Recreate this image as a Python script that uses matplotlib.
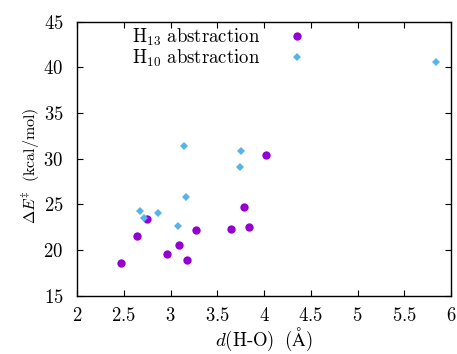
import matplotlib
matplotlib.use("Agg")
import matplotlib.pyplot as plt
from matplotlib.ticker import FuncFormatter

plt.rcParams['mathtext.fontset'] = 'cm'
plt.rcParams['font.family'] = 'serif'
plt.rcParams['font.serif'] = ['DejaVu Serif']

h13_d = [2.47, 2.64, 2.75, 2.96, 3.09, 3.17, 3.27, 3.64, 3.78, 3.835, 4.02]
h13_e = [18.55, 21.57, 23.36, 19.57, 20.55, 18.87, 22.19, 22.27, 24.68, 22.49, 30.37]
h10_d = [2.67, 2.71, 2.86, 3.08, 3.14, 3.16, 3.75, 3.74, 5.84]
h10_e = [24.31, 23.54, 24.09, 22.66, 31.39, 25.77, 30.88, 29.09, 40.59]
x_ticks = [2, 2.5, 3, 3.5, 4, 4.5, 5, 5.5, 6]
y_ticks = [15, 20, 25, 30, 35, 40, 45]

fs = 13.5
fig = plt.figure(figsize=(4.57, 3.54), dpi=100)
ax = fig.add_axes([0.169, 0.1647, 0.818, 0.774])

ax.plot(h13_d, h13_e, 'o', color='#9400d3', ms=6.0, mew=0, label=r'$\mathrm{H}_{13}\ \mathrm{abstraction}$')
ax.plot(h10_d, h10_e, 'D', color='#56b4e9', ms=4.0, mew=0, label=r'$\mathrm{H}_{10}\ \mathrm{abstraction}$')

ax.set_xlim(2, 6)
ax.set_ylim(15, 45)
ax.set_xticks(x_ticks)
ax.set_yticks(y_ticks)
fmt = FuncFormatter(lambda v, p: r'$\mathrm{%g}$' % v)
ax.xaxis.set_major_formatter(fmt)
ax.yaxis.set_major_formatter(fmt)
ax.tick_params(direction='in', top=True, right=True, length=4, width=0.8, labelsize=fs)
ax.tick_params(axis='x', pad=8)
ax.tick_params(axis='y', pad=10)
for s in ax.spines.values():
    s.set_linewidth(1.0)

ax.set_xlabel(r'$d(\mathrm{H\text{-}O})\;\ (\mathrm{\AA})$', fontsize=fs, labelpad=1)
ax.set_ylabel(r'$\Delta E^{\ddagger}\;\ (\mathrm{kcal/mol})$', fontsize=11.5, labelpad=1)
ax.yaxis.label.set_y(0.475)

leg = ax.legend(loc='upper left', bbox_to_anchor=(0.136, 0.995), frameon=False, markerfirst=False,
                fontsize=fs, handlelength=1.0, handletextpad=1.5, labelspacing=0.0, borderaxespad=0,
                borderpad=0.2)

fig.savefig('out.png', dpi=100)
